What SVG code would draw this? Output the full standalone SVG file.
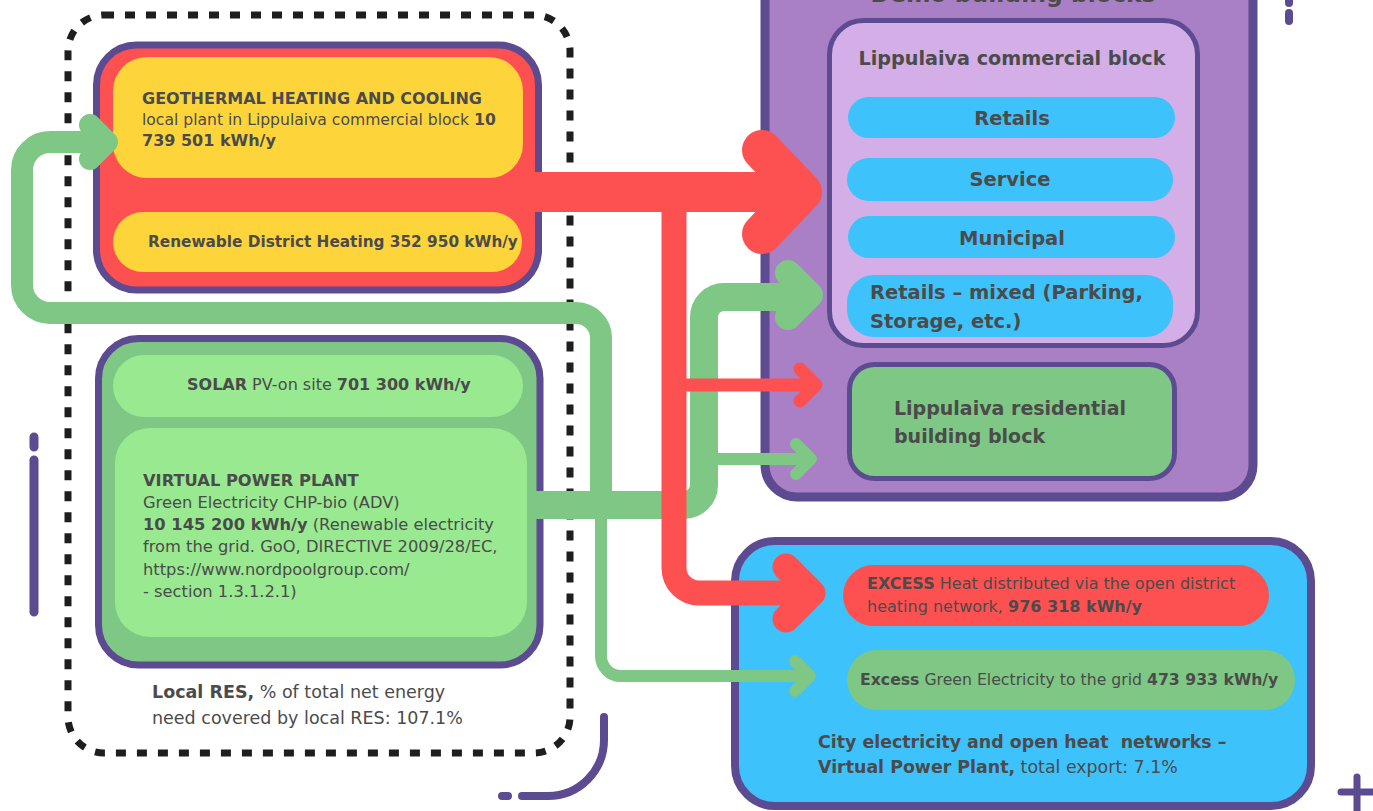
<svg xmlns="http://www.w3.org/2000/svg" width="1373" height="811" viewBox="0 0 1373 811">
<style>
.t{font-family:"DejaVu Sans","Liberation Sans",sans-serif;fill:#4B4B4B}
.b{font-weight:bold}
.pb{stroke:#5D4B92}
.deco{stroke:#5D4B92;fill:none;stroke-linecap:round}
.rd{stroke:#FD5050;fill:none}
.gr{stroke:#7EC784;fill:none}
.ch{fill:none;stroke-linecap:round;stroke-linejoin:round}
</style>
<rect width="1373" height="811" fill="#FFFFFF"/>

<!-- decorations -->
<g id="decorations">
<path class="deco" d="M34 437 V447 M34 460 V612" stroke-width="9"/>
<path class="deco" d="M604 717 V740 A56 56 0 0 1 548 796 H522 M502 796 H508" stroke-width="8"/>
<path class="deco" d="M1289 -5 V3 M1289 13 V21" stroke-width="8"/>
<path class="deco" d="M1341 792 H1380 M1357 777 V820" stroke-width="7"/>
</g>

<!-- local RES dashed frame -->
<g id="local-res">
<rect x="68" y="15" width="502" height="738" rx="36" fill="none" stroke="#1E1E1E" stroke-width="7" stroke-dasharray="10 11"/>
<text class="t" font-size="17.5" x="152" y="698"><tspan class="b">Local RES,</tspan> % of total net energy</text>
<text class="t" font-size="17.5" x="152" y="724">need covered by local RES: 107.1%</text>
</g>

<!-- heat sources -->
<g id="heat-sources">
<rect x="96.5" y="45" width="442" height="245" rx="40" fill="#FD5050" class="pb" stroke-width="7"/>
<g id="geothermal">
<rect x="113" y="57" width="410" height="121" rx="34" fill="#FDD53B"/>
<text class="t" font-size="16" x="142" y="104"><tspan class="b">GEOTHERMAL HEATING AND COOLING</tspan></text>
<text class="t" font-size="15.6" x="142" y="125">local plant in Lippulaiva commercial block <tspan class="b">10</tspan></text>
<text class="t b" font-size="16" x="142" y="146">739 501 kWh/y</text>
</g>
<g id="district-heating">
<rect x="113" y="212" width="409" height="60" rx="30" fill="#FDD53B"/>
<text class="t b" font-size="15.3" x="148" y="247">Renewable District Heating 352 950 kWh/y</text>
</g>
</g>

<!-- electricity sources -->
<g id="electricity-sources">
<rect x="98.5" y="338.5" width="441.5" height="326.5" rx="40" fill="#7EC784" class="pb" stroke-width="7"/>
<g id="solar">
<rect x="113" y="355" width="410" height="62" rx="31" fill="#98E990"/>
<text class="t" font-size="16" x="187" y="390"><tspan class="b">SOLAR</tspan> PV-on site <tspan class="b">701 300 kWh/y</tspan></text>
</g>
<g id="vpp">
<rect x="115" y="428" width="412" height="209" rx="35" fill="#98E990"/>
<text class="t" font-size="16.3" x="143">
<tspan x="143" y="486" class="b">VIRTUAL POWER PLANT</tspan>
<tspan x="143" y="508">Green Electricity CHP-bio (ADV)</tspan>
<tspan x="143" y="530"><tspan class="b">10 145 200 kWh/y</tspan> (Renewable electricity</tspan>
<tspan x="143" y="552">from the grid. GoO, DIRECTIVE 2009/28/EC,</tspan>
<tspan x="143" y="575">https://www.nordpoolgroup.com/</tspan>
<tspan x="143" y="597">- section 1.3.1.2.1)</tspan>
</text>
</g>
</g>

<!-- demo building blocks -->
<g id="demo-blocks">
<rect x="765" y="-40" width="488" height="537" rx="32" fill="#A97FC6" class="pb" stroke-width="9"/>
<text class="t b" font-size="23.5" x="1013" y="2" text-anchor="middle">Demo building blocks</text>
<g id="commercial">
<rect x="829.5" y="20.5" width="368" height="325" rx="34" fill="#D3AEE7" class="pb" stroke-width="5"/>
<text class="t b" font-size="19.2" x="1012" y="65" text-anchor="middle">Lippulaiva commercial block</text>
</g>
<g id="retails">
<rect x="848" y="97" width="327" height="41" rx="20.5" fill="#3EC2FB"/>
<text class="t b" font-size="19.5" x="1012" y="125" text-anchor="middle">Retails</text>
</g>
<g id="service">
<rect x="847" y="158" width="326" height="43" rx="21.5" fill="#3EC2FB"/>
<text class="t b" font-size="19.5" x="1010" y="186" text-anchor="middle">Service</text>
</g>
<g id="municipal">
<rect x="848" y="216" width="327" height="42" rx="21" fill="#3EC2FB"/>
<text class="t b" font-size="19.5" x="1012" y="245" text-anchor="middle">Municipal</text>
</g>
<g id="retails-mixed">
<rect x="847" y="275" width="326" height="62" rx="27" fill="#3EC2FB"/>
<text class="t b" font-size="19.5" x="870" y="299">Retails – mixed (Parking,</text>
<text class="t b" font-size="19.5" x="870" y="328">Storage, etc.)</text>
</g>
<g id="residential">
<rect x="849.5" y="364.5" width="325" height="114" rx="25" fill="#7EC784" class="pb" stroke-width="5"/>
<text class="t b" font-size="19" x="894" y="415">Lippulaiva residential</text>
<text class="t b" font-size="19" x="894" y="443">building block</text>
</g>
</g>

<!-- city networks -->
<g id="city-networks">
<rect x="735" y="541" width="576" height="265" rx="40" fill="#3EC2FB" class="pb" stroke-width="8"/>
<g id="excess-heat">
<rect x="843" y="565" width="426" height="61" rx="30.5" fill="#FD5050"/>
<text class="t" font-size="16" x="867" y="589"><tspan class="b">EXCESS</tspan> Heat distributed via the open district</text>
<text class="t" font-size="16" x="867" y="612">heating network, <tspan class="b">976 318 kWh/y</tspan></text>
</g>
<g id="excess-electricity">
<rect x="847" y="650" width="448" height="60" rx="30" fill="#7EC784"/>
<text class="t" font-size="15.7" x="860" y="685"><tspan class="b">Excess</tspan> Green Electricity to the grid <tspan class="b">473 933 kWh/y</tspan></text>
</g>
<text class="t b" font-size="17.4" x="818" y="748" style="white-space:pre">City electricity and open heat  networks –</text>
<text class="t" font-size="17.4" x="818" y="773"><tspan class="b">Virtual Power Plant,</tspan> total export: 7.1%</text>
</g>

<!-- connectors -->
<g id="connectors">
<!-- green: VPP to geothermal loop -->
<path class="gr" stroke-width="22" d="M601 505 V338 A25 25 0 0 0 576 313 H50 A28 28 0 0 1 22 285 V170 A28 28 0 0 1 50 142 H100"/>
<polyline class="gr ch" stroke-width="22" points="90,125 107,142 90,159"/>
<!-- green: VPP to excess electricity -->
<path class="gr" stroke-width="12" d="M601 505 V656 A20 20 0 0 0 621 676 H808"/>
<polyline class="gr ch" stroke-width="12" points="795,661 810,676 795,691"/>
<!-- green: VPP to commercial / residential -->
<path class="gr" stroke-width="28" d="M530 505 H684 A20 20 0 0 0 704 485 V317 A20 20 0 0 1 724 297 H800"/>
<polyline class="gr ch" stroke-width="26" points="788,273 810,295 788,317"/>
<path class="gr" stroke-width="12" d="M704 459 H810"/>
<polyline class="gr ch" stroke-width="12" points="796,444 811,459 796,474"/>
<!-- red: heat to commercial -->
<path class="rd" stroke-width="40" d="M530 192 H790"/>
<polyline class="rd ch" stroke-width="40" points="762,150 802,192 762,234"/>
<!-- red: heat to residential and excess heat -->
<path class="rd" stroke-width="25" d="M674 200 V568 A25 25 0 0 0 699 593 H800"/>
<polyline class="rd ch" stroke-width="27" points="786,567 812,593 786,619"/>
<path class="rd" stroke-width="13" d="M674 385 H812"/>
<polyline class="rd ch" stroke-width="13" points="800,369 816,385 800,401"/>
</g>
</svg>
